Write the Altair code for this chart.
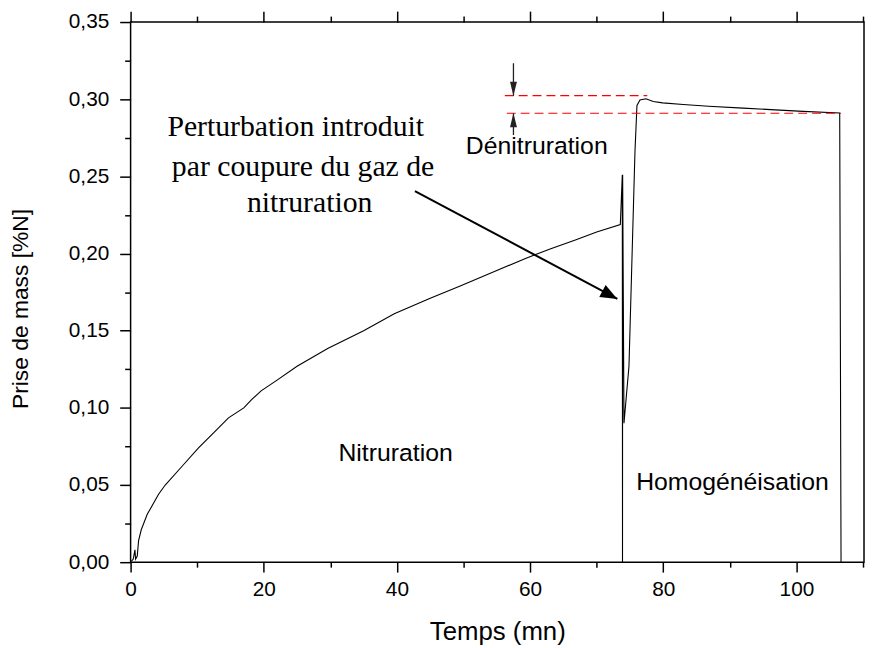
import altair as alt
import pandas as pd

# ---- data ----
temps = [0.1, 0.4, 0.65, 0.75, 1.0, 1.2, 1.6, 2.5, 4.2, 5.2,
         7.7, 10.2, 12.5, 14.7, 17.0, 18.1, 19.6, 22.0, 25.0, 29.6,
         35.0, 39.6, 45.0, 49.5, 55.0, 59.4, 63.0, 66.9, 70.0, 73.55,
         73.85, 73.88, 73.9, 74.1, 74.85, 75.75, 76.05, 76.5, 77.4, 78.5,
         79.9, 83.0, 86.8, 92.0, 96.8, 101.0, 106.5, 106.7]
prise = [0.0005, 0.002, 0.008, 0.002, 0.004, 0.014, 0.021, 0.031, 0.044, 0.050,
         0.062, 0.074, 0.084, 0.0935, 0.100, 0.105, 0.111, 0.118, 0.127, 0.1385,
         0.150, 0.161, 0.171, 0.179, 0.189, 0.197, 0.203, 0.209, 0.214, 0.2188,
         0.251, 0.0, 0.251, 0.090, 0.127, 0.266, 0.296, 0.2995, 0.3003, 0.2985,
         0.2976, 0.2966, 0.2954, 0.2942, 0.2931, 0.2921, 0.2911, 0.0]

dash_y = [0.3023, 0.2909]
dash_x0 = [56.2, 56.5]
dash_x1 = [77.6, 106.7]

big_arrow_x = [42.7, 73.1]
big_arrow_y = [0.2405, 0.1706]
small_arrow_x = [57.5, 57.5]
small_arrow_from = [0.3233, 0.2768]
small_arrow_to = [0.3023, 0.2909]

serif_lines = ["Perturbation introduit", "par coupure du gaz de", "nitruration"]
serif_x = [24.8, 25.9, 26.9]
serif_y = [0.2762, 0.2505, 0.2267]

sans_labels = ["Dénitruration", "Nitruration", "Homogénéisation"]
sans_x = [61.0, 39.8, 90.4]
sans_y = [0.2648, 0.0655, 0.0470]

x_major_vals = [0, 20, 40, 60, 80, 100]
x_minor_vals = [10, 30, 50, 70, 90, 110]
y_major_vals = [0.0, 0.05, 0.10, 0.15, 0.20, 0.25, 0.30, 0.35]
y_minor_vals = [0.025, 0.075, 0.125, 0.175, 0.225, 0.275, 0.325]

# ---- tables ----
df_curve = pd.DataFrame({"t": temps, "m": prise, "i": list(range(len(temps)))})
df_dash = pd.DataFrame({"y": dash_y, "x0": dash_x0, "x1": dash_x1})
df_big = pd.DataFrame({"x0": [big_arrow_x[0]], "y0": [big_arrow_y[0]],
                       "x1": [big_arrow_x[1]], "y1": [big_arrow_y[1]]})
df_small = pd.DataFrame({"x": small_arrow_x, "y0": small_arrow_from, "y1": small_arrow_to})
df_serif = pd.DataFrame({"x": serif_x, "y": serif_y, "txt": serif_lines})
df_sans = pd.DataFrame({"x": sans_x, "y": sans_y, "txt": sans_labels})

xs = alt.Scale(domain=[0, 110.15], nice=False, zero=False)
ys = alt.Scale(domain=[0, 0.35], nice=False, zero=False)

FONT = "Liberation Sans"
common = dict(grid=False, domain=False, tickColor="black", tickWidth=1.5,
              labelColor="black", labelFont=FONT, labelFontSize=21,
              titleFont=FONT, titleColor="black", titleFontWeight="normal")

x_major = alt.Axis(orient="bottom", values=x_major_vals, tickSize=10, labelPadding=7, format="d",
                   labelFlush=False, labelOverlap=False,
                   titleFontSize=26, titleX=370, titleY=78,
                   titleBaseline="alphabetic", titleAlign="center", **common)
x_minor = alt.Axis(orient="bottom", values=x_minor_vals, tickSize=5, labels=False, **common)
x_top_major = alt.Axis(orient="top", values=x_major_vals, tickSize=11, labels=False, **common)
x_top_minor = alt.Axis(orient="top", values=x_minor_vals, tickSize=6, labels=False, **common)

y_major = alt.Axis(orient="left", values=y_major_vals, tickSize=11, labelPadding=11,
                   labelExpr="replace(format(datum.value, '.2f'), '.', ',')",
                   labelFlush=False, labelOverlap=False,
                   titleFontSize=23, titleX=-104, titleY=289, titleAngle=-90,
                   titleBaseline="alphabetic", titleAlign="center", **common)
y_minor = alt.Axis(orient="left", values=y_minor_vals, tickSize=6, labels=False, **common)

curve = alt.Chart(df_curve).mark_line(color="black", strokeWidth=1.1).encode(
    x=alt.X("t:Q", scale=xs, axis=x_major, title="Temps (mn)"),
    y=alt.Y("m:Q", scale=ys, axis=y_major, title="Prise de mass [%N]"),
    order=alt.Order("i:Q"),
)

dashes = alt.Chart(df_dash).mark_rule(color="#ff0000", strokeDash=[9, 5], strokeWidth=1.2).encode(
    x=alt.X("x0:Q", scale=xs, axis=x_minor, title=None),
    x2="x1:Q",
    y=alt.Y("y:Q", scale=ys, axis=y_minor, title=None),
)

serif_text = alt.Chart(df_serif).mark_text(font="Liberation Serif", fontSize=30, color="black",
                                           align="center", baseline="alphabetic").encode(
    x=alt.X("x:Q", scale=xs, axis=x_top_major, title=None),
    y=alt.Y("y:Q", scale=ys, axis=None),
    text="txt:N",
)

sans_text = alt.Chart(df_sans).mark_text(font=FONT, fontSize=25, color="black",
                                         align="center", baseline="alphabetic").encode(
    x=alt.X("x:Q", scale=xs, axis=x_top_minor, title=None),
    y=alt.Y("y:Q", scale=ys, axis=None),
    text="txt:N",
)

big_line = alt.Chart(df_big).mark_rule(color="black", strokeWidth=2).encode(
    x=alt.X("x0:Q", scale=xs, axis=None),
    y=alt.Y("y0:Q", scale=ys, axis=None),
    x2="x1:Q", y2="y1:Q",
)
big_head = alt.Chart(df_big).mark_point(filled=True, opacity=1, color="black",
                                        shape="M0,0L-1,-0.4L-1,0.4Z", size=1156, angle=28,
                                        strokeWidth=0).encode(
    x=alt.X("x1:Q", scale=xs, axis=None),
    y=alt.Y("y1:Q", scale=ys, axis=None),
)

small_line = alt.Chart(df_small).mark_rule(color="#222222", strokeWidth=1.3).encode(
    x=alt.X("x:Q", scale=xs, axis=None),
    y=alt.Y("y0:Q", scale=ys, axis=None),
    y2="y1:Q",
)
df_down = df_small.iloc[[0]]
df_up = df_small.iloc[[1]]
head_down = alt.Chart(df_down).mark_point(filled=True, opacity=1, color="#222222",
                                          shape="M0,0L-0.25,-1L0.25,-1Z", size=784,
                                          strokeWidth=0).encode(
    x=alt.X("x:Q", scale=xs, axis=None),
    y=alt.Y("y1:Q", scale=ys, axis=None),
)
head_up = alt.Chart(df_up).mark_point(filled=True, opacity=1, color="#222222",
                                      shape="M0,0L-0.25,1L0.25,1Z", size=784,
                                      strokeWidth=0).encode(
    x=alt.X("x:Q", scale=xs, axis=None),
    y=alt.Y("y1:Q", scale=ys, axis=None),
)

chart = alt.layer(
    curve, dashes, serif_text, sans_text, big_line, big_head, small_line, head_down, head_up
).resolve_axis(x="independent", y="independent").properties(
    width=740, height=545, autosize="none",
    padding={"left": 123.7, "top": 11.3, "right": 1, "bottom": 83},
).configure_view(stroke="black", strokeWidth=1.5)

chart.save("out.html", embed_options={"renderer": "svg", "actions": False})
